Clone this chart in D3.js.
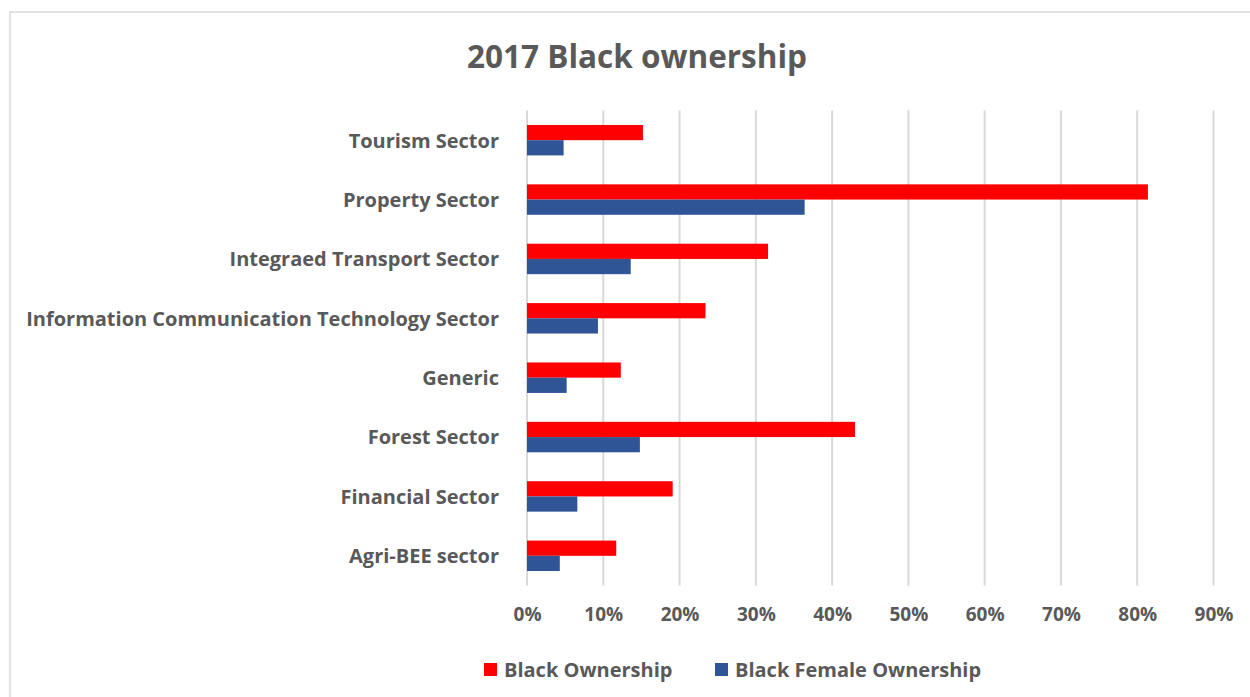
<!DOCTYPE html>
<html><head><meta charset="utf-8">
<script src="https://cdn.jsdelivr.net/npm/d3@7"></script>
<style>body{margin:0;background:#fff}svg{display:block}text{font-family:"Open Sans",sans-serif;font-weight:bold;fill:#595959}</style>
</head><body>
<svg id="c" width="1250" height="697"></svg>
<script>
const categories = ["Tourism Sector","Property Sector","Integraed Transport Sector","Information Communication Technology Sector","Generic","Forest Sector","Financial Sector","Agri-BEE sector"];
const blackOwnership = [15.2, 81.4, 31.6, 23.4, 12.3, 43.0, 19.1, 11.7];
const blackFemaleOwnership = [4.8, 36.4, 13.6, 9.3, 5.2, 14.8, 6.6, 4.3];
const seriesNames = ["Black Ownership", "Black Female Ownership"];
const tickValues = [0,10,20,30,40,50,60,70,80,90];
const colors = ["#FF0000", "#2F5597"];

const svg = d3.select("#c");
svg.append("rect").attr("x",10).attr("y",12).attr("width",1260).attr("height",700)
  .attr("fill","#fff").attr("stroke","#D9D9D9").attr("stroke-width",1.5);

svg.append("text").attr("x",637).attr("y",68).attr("text-anchor","middle")
  .style("font-size","31.5px").text("2017 Black ownership");

const x = d3.scaleLinear().domain([0,90]).range([527,1213.5]);
const y = d3.scaleBand().domain(categories).range([110.5,585.5]).paddingInner(0).paddingOuter(0);
const inner = d3.scaleBand().domain(seriesNames).range([0,y.bandwidth()]).paddingInner(0).paddingOuter(0.95);

// gridlines
svg.append("g").selectAll("line").data(tickValues).join("line")
  .attr("x1",d=>x(d)).attr("x2",d=>x(d)).attr("y1",110.5).attr("y2",585.5)
  .attr("stroke","#D9D9D9").attr("stroke-width",2);

// x axis labels
const xAxis = d3.axisBottom(x).tickValues(tickValues).tickFormat(d=>d+"%").tickSize(0).tickPadding(0);
const gx = svg.append("g").attr("transform","translate(0,604)").call(xAxis);
gx.select(".domain").remove();
gx.selectAll("text").style("font-size","19px").attr("fill","#595959").attr("dy","0.9em")
  .style("font-family",'"Open Sans",sans-serif');

// y axis labels
const yAxis = d3.axisLeft(y).tickSize(0).tickPadding(28);
const gy = svg.append("g").attr("transform","translate(527,1)").call(yAxis);
gy.select(".domain").remove();
gy.selectAll("text").style("font-size","20px").attr("fill","#595959")
  .style("font-family",'"Open Sans",sans-serif');

const series = [blackOwnership, blackFemaleOwnership];
series.forEach((vals, si) => {
  svg.append("g").selectAll("rect").data(vals).join("rect")
    .attr("x", x(0))
    .attr("y", (d,i) => y(categories[i]) + inner(seriesNames[si]))
    .attr("width", d => x(d) - x(0))
    .attr("height", inner.bandwidth())
    .attr("fill", colors[si]);
});

// legend
const legX = [484, 715];
seriesNames.forEach((n,i)=>{
  svg.append("rect").attr("x",legX[i]).attr("y",663).attr("width",13).attr("height",13).attr("fill",colors[i]);
  svg.append("text").attr("x",legX[i]+20).attr("y",677).style("font-size","20px").text(n);
});
</script>
</body></html>
